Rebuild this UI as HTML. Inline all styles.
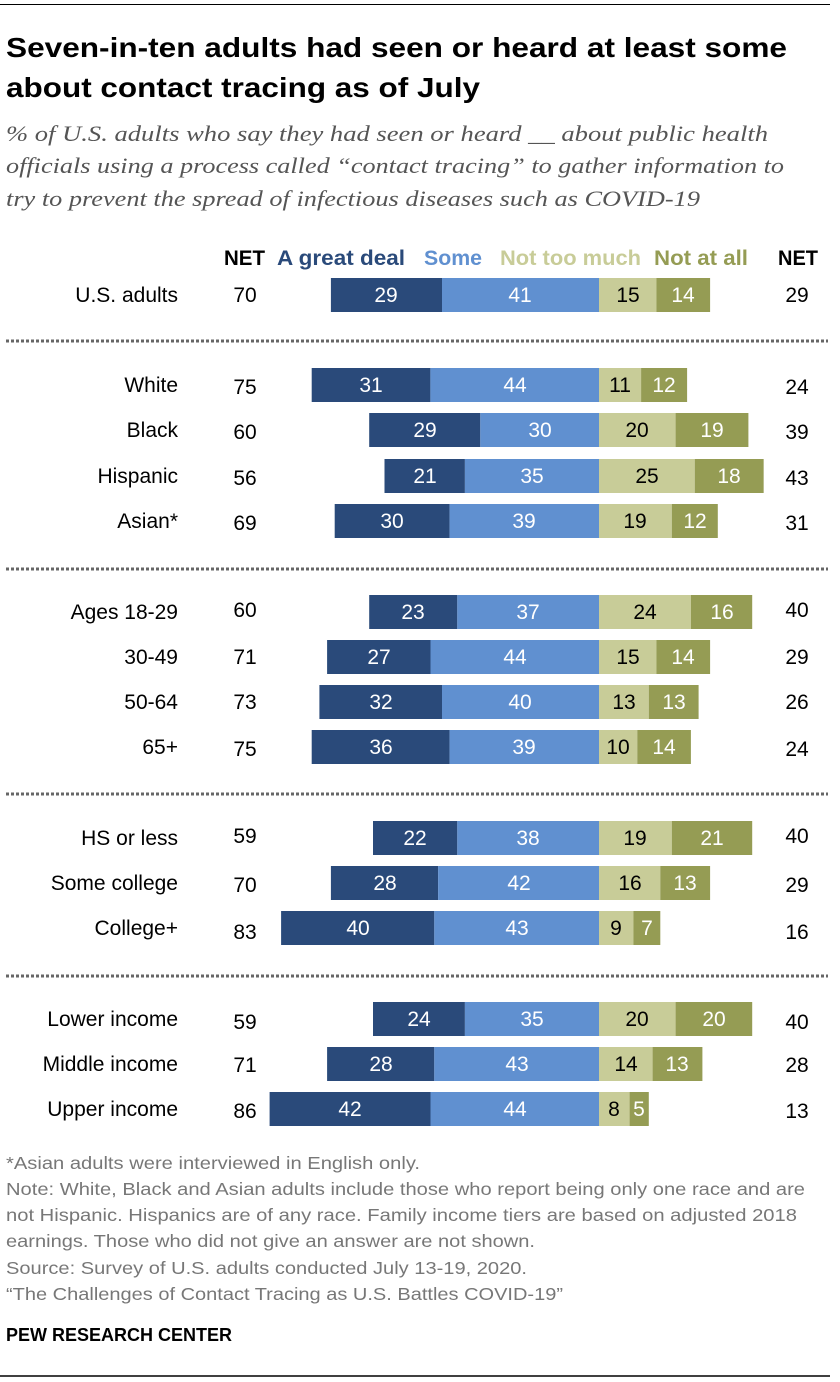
<!DOCTYPE html>
<html><head><meta charset="utf-8"><style>
body{margin:0;background:#fff}
svg{display:block}
text{font-family:"Liberation Sans Narrow","Liberation Sans",sans-serif}
.l{font-size:21px;fill:#000}
.w{fill:#fff;font-size:21px}
.k{fill:#000;font-size:21px}
.n{font-size:17.5px;fill:#777}
</style></head><body>
<svg width="840" height="1382" viewBox="0 0 840 1382" xmlns="http://www.w3.org/2000/svg">
<line x1="0" y1="4.5" x2="830" y2="4.5" stroke="#000" stroke-width="1"/>
<line x1="0" y1="1376" x2="830" y2="1376" stroke="#000" stroke-width="1.5"/>
<text x="6" y="57" font-size="28" font-weight="bold" font-family="Liberation Sans" textLength="781" lengthAdjust="spacingAndGlyphs">Seven-in-ten adults had seen or heard at least some</text>
<text x="6" y="97" font-size="28" font-weight="bold" font-family="Liberation Sans" textLength="474" lengthAdjust="spacingAndGlyphs">about contact tracing as of July</text>
<g font-family="Liberation Serif" font-style="italic" font-size="22" fill="#555">
<text x="6" y="141" style="font-family:'Liberation Serif',serif" textLength="762" lengthAdjust="spacingAndGlyphs">% of U.S. adults who say they had seen or heard __ about public health</text>
<text x="6" y="173" style="font-family:'Liberation Serif',serif" textLength="778" lengthAdjust="spacingAndGlyphs">officials using a process called “contact tracing” to gather information to</text>
<text x="6" y="206" style="font-family:'Liberation Serif',serif" textLength="694" lengthAdjust="spacingAndGlyphs">try to prevent the spread of infectious diseases such as COVID-19</text>
</g>
<g font-size="21" font-weight="bold">
<text x="224" y="265" textLength="41" lengthAdjust="spacingAndGlyphs">NET</text>
<text x="277" y="265" fill="#2a4a7a" textLength="128" lengthAdjust="spacingAndGlyphs">A great deal</text>
<text x="424" y="265" fill="#6090d0" textLength="58" lengthAdjust="spacingAndGlyphs">Some</text>
<text x="500" y="265" fill="#c8cc98" textLength="141" lengthAdjust="spacingAndGlyphs">Not too much</text>
<text x="654" y="265" fill="#959c54" textLength="94" lengthAdjust="spacingAndGlyphs">Not at all</text>
<text x="778" y="265" textLength="40" lengthAdjust="spacingAndGlyphs">NET</text>
</g>
<g stroke="#666" stroke-width="3" stroke-dasharray="3,2">
<line x1="6" y1="341" x2="828" y2="341"/>
<line x1="6" y1="569" x2="828" y2="569"/>
<line x1="6" y1="794" x2="828" y2="794"/>
<line x1="6" y1="976" x2="828" y2="976"/>
</g>
<g id="bars">
<!-- rows: y top, height 34 -->
<!-- US -->
<rect x="330.9" y="278" width="111.1" height="34" fill="#2a4a7a"/><rect x="442" y="278" width="157" height="34" fill="#6090d0"/><rect x="599" y="278" width="57.5" height="34" fill="#c8cc98"/><rect x="656.5" y="278" width="53.6" height="34" fill="#959c54"/>
<!-- White -->
<rect x="311.7" y="368" width="118.7" height="34" fill="#2a4a7a"/><rect x="430.4" y="368" width="168.6" height="34" fill="#6090d0"/><rect x="599" y="368" width="42.1" height="34" fill="#c8cc98"/><rect x="641.1" y="368" width="46" height="34" fill="#959c54"/>
<!-- Black -->
<rect x="369.2" y="413" width="111.1" height="34" fill="#2a4a7a"/><rect x="480.3" y="413" width="118.7" height="34" fill="#6090d0"/><rect x="599" y="413" width="76.6" height="34" fill="#c8cc98"/><rect x="675.6" y="413" width="72.8" height="34" fill="#959c54"/>
<!-- Hispanic -->
<rect x="384.5" y="459" width="80.4" height="34" fill="#2a4a7a"/><rect x="464.9" y="459" width="134.1" height="34" fill="#6090d0"/><rect x="599" y="459" width="95.75" height="34" fill="#c8cc98"/><rect x="694.75" y="459" width="68.9" height="34" fill="#959c54"/>
<!-- Asian -->
<rect x="334.7" y="504" width="114.9" height="34" fill="#2a4a7a"/><rect x="449.6" y="504" width="149.4" height="34" fill="#6090d0"/><rect x="599" y="504" width="72.8" height="34" fill="#c8cc98"/><rect x="671.8" y="504" width="46" height="34" fill="#959c54"/>
<!-- 18-29 -->
<rect x="369.2" y="595" width="88.1" height="34" fill="#2a4a7a"/><rect x="457.3" y="595" width="141.7" height="34" fill="#6090d0"/><rect x="599" y="595" width="91.9" height="34" fill="#c8cc98"/><rect x="690.9" y="595" width="61.3" height="34" fill="#959c54"/>
<!-- 30-49 -->
<rect x="327.1" y="640" width="103.4" height="34" fill="#2a4a7a"/><rect x="430.5" y="640" width="168.5" height="34" fill="#6090d0"/><rect x="599" y="640" width="57.5" height="34" fill="#c8cc98"/><rect x="656.5" y="640" width="53.6" height="34" fill="#959c54"/>
<!-- 50-64 -->
<rect x="319.4" y="685" width="122.6" height="34" fill="#2a4a7a"/><rect x="442" y="685" width="157" height="34" fill="#6090d0"/><rect x="599" y="685" width="49.8" height="34" fill="#c8cc98"/><rect x="648.8" y="685" width="49.8" height="34" fill="#959c54"/>
<!-- 65+ -->
<rect x="311.7" y="730" width="137.9" height="34" fill="#2a4a7a"/><rect x="449.6" y="730" width="149.4" height="34" fill="#6090d0"/><rect x="599" y="730" width="38.3" height="34" fill="#c8cc98"/><rect x="637.3" y="730" width="53.6" height="34" fill="#959c54"/>
<!-- HS -->
<rect x="373" y="821" width="84.3" height="34" fill="#2a4a7a"/><rect x="457.3" y="821" width="141.7" height="34" fill="#6090d0"/><rect x="599" y="821" width="72.8" height="34" fill="#c8cc98"/><rect x="671.8" y="821" width="80.4" height="34" fill="#959c54"/>
<!-- Some college -->
<rect x="330.9" y="866" width="107.2" height="34" fill="#2a4a7a"/><rect x="438.1" y="866" width="160.9" height="34" fill="#6090d0"/><rect x="599" y="866" width="61.3" height="34" fill="#c8cc98"/><rect x="660.3" y="866" width="49.8" height="34" fill="#959c54"/>
<!-- College+ -->
<rect x="281.1" y="911" width="153.2" height="34" fill="#2a4a7a"/><rect x="434.3" y="911" width="164.7" height="34" fill="#6090d0"/><rect x="599" y="911" width="34.5" height="34" fill="#c8cc98"/><rect x="633.5" y="911" width="26.8" height="34" fill="#959c54"/>
<!-- Lower -->
<rect x="373" y="1002" width="91.9" height="34" fill="#2a4a7a"/><rect x="464.9" y="1002" width="134.1" height="34" fill="#6090d0"/><rect x="599" y="1002" width="76.6" height="34" fill="#c8cc98"/><rect x="675.6" y="1002" width="76.6" height="34" fill="#959c54"/>
<!-- Middle -->
<rect x="327.1" y="1047" width="107.2" height="34" fill="#2a4a7a"/><rect x="434.3" y="1047" width="164.7" height="34" fill="#6090d0"/><rect x="599" y="1047" width="53.6" height="34" fill="#c8cc98"/><rect x="652.6" y="1047" width="49.8" height="34" fill="#959c54"/>
<!-- Upper -->
<rect x="269.6" y="1092" width="160.9" height="34" fill="#2a4a7a"/><rect x="430.5" y="1092" width="168.5" height="34" fill="#6090d0"/><rect x="599" y="1092" width="30.6" height="34" fill="#c8cc98"/><rect x="629.6" y="1092" width="19.2" height="34" fill="#959c54"/>
</g>
<g text-anchor="middle">
<text class="w" x="386" y="302">29</text><text class="w" x="520" y="302">41</text><text class="k" x="628" y="302">15</text><text class="w" x="683" y="302">14</text>
<text class="w" x="371" y="392">31</text><text class="w" x="515" y="392">44</text><text class="k" x="620" y="392">11</text><text class="w" x="664" y="392">12</text>
<text class="w" x="425" y="437">29</text><text class="w" x="540" y="437">30</text><text class="k" x="637" y="437">20</text><text class="w" x="712" y="437">19</text>
<text class="w" x="425" y="483">21</text><text class="w" x="532" y="483">35</text><text class="k" x="647" y="483">25</text><text class="w" x="729" y="483">18</text>
<text class="w" x="392" y="528">30</text><text class="w" x="524" y="528">39</text><text class="k" x="635" y="528">19</text><text class="w" x="695" y="528">12</text>
<text class="w" x="413" y="619">23</text><text class="w" x="528" y="619">37</text><text class="k" x="645" y="619">24</text><text class="w" x="722" y="619">16</text>
<text class="w" x="379" y="664">27</text><text class="w" x="515" y="664">44</text><text class="k" x="628" y="664">15</text><text class="w" x="683" y="664">14</text>
<text class="w" x="381" y="709">32</text><text class="w" x="520" y="709">40</text><text class="k" x="624" y="709">13</text><text class="w" x="674" y="709">13</text>
<text class="w" x="381" y="754">36</text><text class="w" x="524" y="754">39</text><text class="k" x="618" y="754">10</text><text class="w" x="664" y="754">14</text>
<text class="w" x="415" y="845">22</text><text class="w" x="528" y="845">38</text><text class="k" x="635" y="845">19</text><text class="w" x="712" y="845">21</text>
<text class="w" x="385" y="890">28</text><text class="w" x="519" y="890">42</text><text class="k" x="630" y="890">16</text><text class="w" x="685" y="890">13</text>
<text class="w" x="358" y="935">40</text><text class="w" x="517" y="935">43</text><text class="k" x="616" y="935">9</text><text class="w" x="647" y="935">7</text>
<text class="w" x="419" y="1026">24</text><text class="w" x="532" y="1026">35</text><text class="k" x="637" y="1026">20</text><text class="w" x="714" y="1026">20</text>
<text class="w" x="381" y="1071">28</text><text class="w" x="517" y="1071">43</text><text class="k" x="626" y="1071">14</text><text class="w" x="677" y="1071">13</text>
<text class="w" x="350" y="1116">42</text><text class="w" x="515" y="1116">44</text><text class="k" x="614" y="1116">8</text><text class="w" x="639" y="1116">5</text>
</g>
<g text-anchor="end" class="l">
<text class="l" x="178" y="302">U.S. adults</text>
<text class="l" x="178" y="392">White</text>
<text class="l" x="178" y="437">Black</text>
<text class="l" x="178" y="483">Hispanic</text>
<text class="l" x="178" y="528">Asian*</text>
<text class="l" x="178" y="619">Ages 18-29</text>
<text class="l" x="178" y="664">30-49</text>
<text class="l" x="178" y="709">50-64</text>
<text class="l" x="178" y="754">65+</text>
<text class="l" x="178" y="845">HS or less</text>
<text class="l" x="178" y="890">Some college</text>
<text class="l" x="178" y="935">College+</text>
<text class="l" x="178" y="1026">Lower income</text>
<text class="l" x="178" y="1071">Middle income</text>
<text class="l" x="178" y="1116">Upper income</text>
</g>
<g text-anchor="middle">
<text class="l" x="245" y="302">70</text><text class="l" x="797" y="302">29</text>
<text class="l" x="245" y="394">75</text><text class="l" x="797" y="394">24</text>
<text class="l" x="245" y="439">60</text><text class="l" x="797" y="439">39</text>
<text class="l" x="245" y="485">56</text><text class="l" x="797" y="485">43</text>
<text class="l" x="245" y="530">69</text><text class="l" x="797" y="530">31</text>
<text class="l" x="245" y="617">60</text><text class="l" x="797" y="617">40</text>
<text class="l" x="245" y="664">71</text><text class="l" x="797" y="664">29</text>
<text class="l" x="245" y="709">73</text><text class="l" x="797" y="709">26</text>
<text class="l" x="245" y="756">75</text><text class="l" x="797" y="756">24</text>
<text class="l" x="245" y="843">59</text><text class="l" x="797" y="843">40</text>
<text class="l" x="245" y="892">70</text><text class="l" x="797" y="892">29</text>
<text class="l" x="245" y="939">83</text><text class="l" x="797" y="939">16</text>
<text class="l" x="245" y="1029">59</text><text class="l" x="797" y="1029">40</text>
<text class="l" x="245" y="1072">71</text><text class="l" x="797" y="1072">28</text>
<text class="l" x="245" y="1118">86</text><text class="l" x="797" y="1118">13</text>
</g>
<text class="n" x="6" y="1169" textLength="414" lengthAdjust="spacingAndGlyphs">*Asian adults were interviewed in English only.</text>
<text class="n" x="6" y="1195" textLength="799" lengthAdjust="spacingAndGlyphs">Note: White, Black and Asian adults include those who report being only one race and are</text>
<text class="n" x="6" y="1221" textLength="791" lengthAdjust="spacingAndGlyphs">not Hispanic. Hispanics are of any race. Family income tiers are based on adjusted 2018</text>
<text class="n" x="6" y="1247" textLength="529" lengthAdjust="spacingAndGlyphs">earnings. Those who did not give an answer are not shown.</text>
<text class="n" x="6" y="1274" textLength="521" lengthAdjust="spacingAndGlyphs">Source: Survey of U.S. adults conducted July 13-19, 2020.</text>
<text class="n" x="6" y="1300" textLength="557" lengthAdjust="spacingAndGlyphs">“The Challenges of Contact Tracing as U.S. Battles COVID-19”</text>
<text x="6" y="1341" font-size="18" font-weight="bold" textLength="226" lengthAdjust="spacingAndGlyphs">PEW RESEARCH CENTER</text>
</svg>
</body></html>
